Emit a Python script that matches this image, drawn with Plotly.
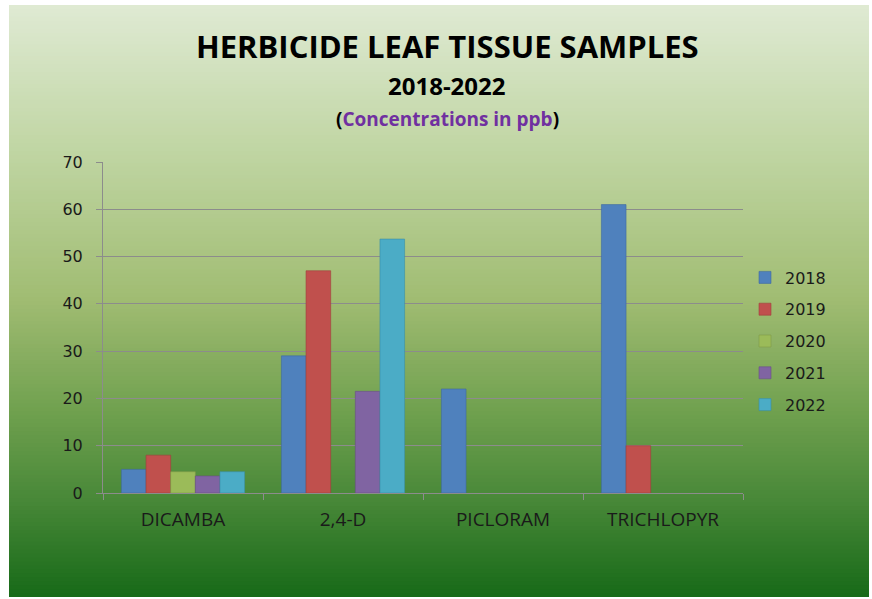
import plotly.graph_objects as go

categories = ["DICAMBA", "2,4-D", "PICLORAM", "TRICHLOPYR"]
years = ["2018", "2019", "2020", "2021", "2022"]
values_2018 = [5.0, 29.0, 22.0, 61.0]
values_2019 = [8.0, 47.0, None, 10.0]
values_2020 = [4.5, None, None, None]
values_2021 = [3.6, 21.5, None, None]
values_2022 = [4.5, 53.7, None, None]
series = [values_2018, values_2019, values_2020, values_2021, values_2022]
colors = ["#4F81BD", "#C0504D", "#9BBB59", "#8064A2", "#4BACC6"]
edge = ["#3f6a9e", "#a03f3c", "#7f9a48", "#694f87", "#3b8fa6"]

W, H = 872, 599
L, R, T, B = 103, 743, 162, 493

def px2x(p):
    return (p - L) / (R - L)

def py2y(p):
    return (B - p) / (B - T)

fig = go.Figure()
for i, (yr, vals) in enumerate(zip(years, series)):
    fig.add_trace(go.Bar(
        x=categories, y=vals, name=yr, legendgroup=yr,
        marker=dict(color=colors[i], line=dict(color=edge[i], width=0.6)),
    ))

# gradient background
stops = [(5, (223, 234, 211)), (160, (190, 212, 160)), (300, (160, 188, 114)),
         (420, (108, 158, 76)), (500, (72, 136, 56)), (597, (23, 106, 24))]

def col_at(p):
    for (p0, c0), (p1, c1) in zip(stops[:-1], stops[1:]):
        if p0 <= p <= p1:
            t = (p - p0) / (p1 - p0)
            return "rgb(%d,%d,%d)" % tuple(round(a + (b - a) * t) for a, b in zip(c0, c1))
    return "rgb(%d,%d,%d)" % stops[-1][1]

shapes = []
n = 150
top, bot = 5, 597
step = (bot - top) / n
for k in range(n):
    y0 = top + k * step
    y1 = min(y0 + step + 1.5, bot)
    shapes.append(dict(type="rect", xref="paper", yref="paper",
                       x0=px2x(9), x1=px2x(869), y0=py2y(y1), y1=py2y(y0),
                       fillcolor=col_at(y0 + step / 2), line=dict(width=0), layer="below"))

fig.update_layout(
    width=W, height=H,
    margin=dict(l=L, r=W - R, t=T, b=H - B, pad=0),
    paper_bgcolor="white", plot_bgcolor="rgba(0,0,0,0)",
    shapes=shapes,
    bargap=0.23, bargroupgap=0,
    showlegend=True,
    legend=dict(x=px2x(745), xanchor="left", y=py2y(341), yanchor="middle",
                font=dict(family="DejaVu Sans", size=16, color="#1a1a1a"),
                bgcolor="rgba(0,0,0,0)", tracegroupgap=8, itemwidth=30),
    annotations=[
        dict(text="<b>HERBICIDE LEAF TISSUE SAMPLES</b>", xref="paper", yref="paper",
             x=px2x(447), y=py2y(46), xanchor="center", yanchor="middle", showarrow=False,
             font=dict(family="Open Sans", size=31, color="#000000")),
        dict(text="<b>2018-2022</b>", xref="paper", yref="paper",
             x=px2x(447), y=py2y(85), xanchor="center", yanchor="middle", showarrow=False,
             font=dict(family="Open Sans", size=24, color="#000000")),
        dict(text="<b>(<span style='color:#7030A0'>Concentrations in ppb</span>)</b>",
             xref="paper", yref="paper",
             x=px2x(447), y=py2y(119), xanchor="center", yanchor="middle", showarrow=False,
             font=dict(family="Open Sans", size=19, color="#000000")),
    ],
    xaxis=dict(showline=True, linecolor="#8c8c8c", linewidth=1,
               ticks="outside", tickson="boundaries", ticklen=6, tickcolor="#8c8c8c",
               tickfont=dict(family="Open Sans", size=19, color="#1a1a1a"),
               ticklabelstandoff=9, showgrid=False),
    yaxis=dict(range=[0, 70], dtick=10, showline=True, linecolor="#8c8c8c", linewidth=1,
               ticks="outside", ticklen=6, tickcolor="#8c8c8c",
               gridcolor="#8c8c8c", gridwidth=1, zeroline=False,
               tickfont=dict(family="DejaVu Sans", size=16, color="#1a1a1a"),
               ticklabelstandoff=10),
)

fig.write_html("out.html", config={"displayModeBar": False},
               post_script="document.body.style.margin='0';document.body.style.padding='0';")
